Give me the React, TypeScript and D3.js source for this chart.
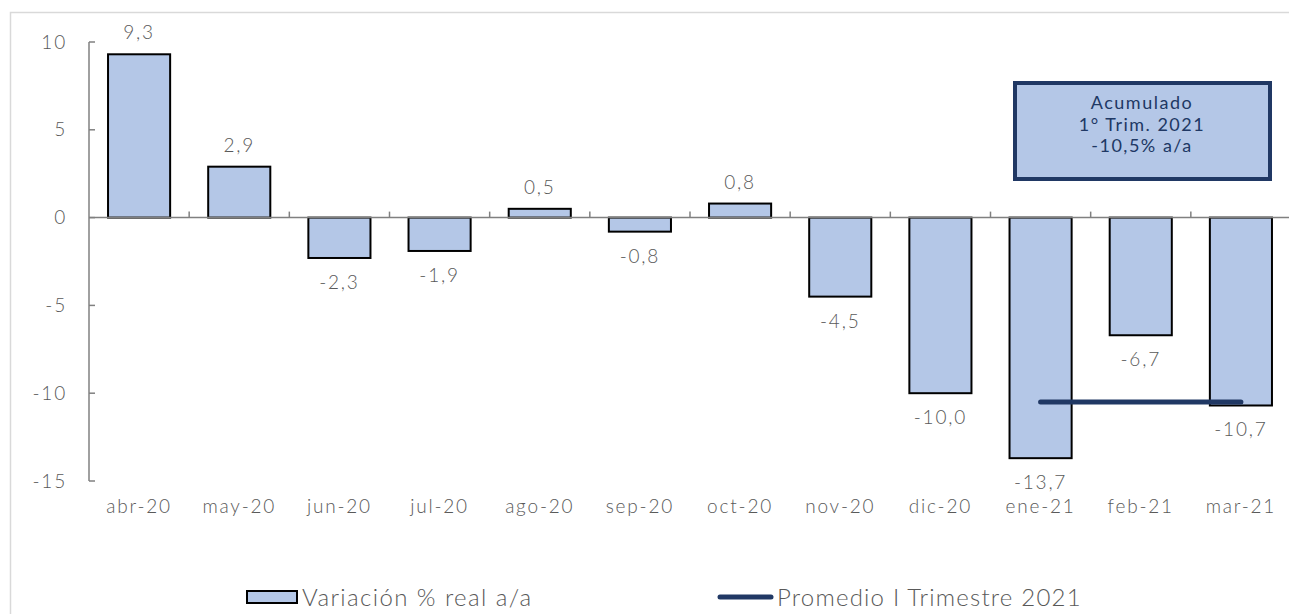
import * as React from "react";
import * as d3 from "d3";

const months = ["abr-20", "may-20", "jun-20", "jul-20", "ago-20", "sep-20", "oct-20", "nov-20", "dic-20", "ene-21", "feb-21", "mar-21"];
const variacion = [9.3, 2.9, -2.3, -1.9, 0.5, -0.8, 0.8, -4.5, -10.0, -13.7, -6.7, -10.7];
const promedioMonths = ["ene-21", "feb-21", "mar-21"];
const promedioValue = -10.5;
const yTicks = [10, 5, 0, -5, -10, -15];
const boxLines = ["Acumulado", "1° Trim. 2021", "-10,5% a/a"];

const W = 1289;
const H = 614;
const font = "'Lato', 'Open Sans', sans-serif";
const navy = "#203864";
const barFill = "#b4c7e7";
const grey = "#808080";
const textGrey = "#595959";

const x = d3.scaleBand().domain(months).range([89, 1291]).paddingInner(0.38).paddingOuter(0.19);
const y = d3.scaleLinear().domain([-15, 10]).range([481, 42]);
const fmt = (v: number) => d3.format(".1f")(v).replace(".", ",").replace("\u2212", "-");

const labelStyle = { fontFamily: font, fontSize: 19, fontWeight: 300, letterSpacing: 1.8, fill: textGrey } as const;

export default function App() {
  const step = x.step();
  const bounds = months.map((_, i) => 89 + step * i);
  const cx = (m: string) => (x(m) as number) + x.bandwidth() / 2;
  return (
    <svg width={W} height={H} style={{ display: "block", position: "absolute", left: 0, top: 0 }}>
      <rect x={0} y={0} width={W} height={H} fill="#fff" />
      <path d={`M10.5,${H} V12.5 H${W}`} fill="none" stroke="#d9d9d9" strokeWidth={1.5} />
      {/* y axis */}
      <line x1={89} x2={89} y1={y(10)} y2={y(-15)} stroke={grey} strokeWidth={1.5} />
      {yTicks.map(t => (
        <g key={t}>
          <line x1={89} x2={95} y1={y(t)} y2={y(t)} stroke={grey} strokeWidth={1.5} />
          <text x={67} y={y(t)} dy="0.35em" textAnchor="end" {...labelStyle}>{String(t)}</text>
        </g>
      ))}
      {/* bars */}
      {months.map((m, i) => {
        const v = variacion[i];
        const y0 = y(Math.max(0, v));
        const y1 = y(Math.min(0, v));
        return (
          <rect key={m} x={x(m)} y={y0} width={x.bandwidth()} height={y1 - y0} fill={barFill} stroke="#000" strokeWidth={2} />
        );
      })}
      {/* zero axis */}
      <line x1={89} x2={1291} y1={y(0)} y2={y(0)} stroke={grey} strokeWidth={1.5} />
      {bounds.slice(1).map((b, i) => (
        <line key={i} x1={b} x2={b} y1={y(0)} y2={y(0) - 6} stroke={grey} strokeWidth={1.5} />
      ))}
      {/* data labels */}
      {months.map((m, i) => {
        const v = variacion[i];
        const ly = v >= 0 ? y(v) - 15 : y(v) + 31;
        return (
          <text key={m} x={cx(m)} y={ly} textAnchor="middle" {...labelStyle}>{fmt(v)}</text>
        );
      })}
      {/* average line */}
      <line x1={cx(promedioMonths[0])} x2={cx(promedioMonths[promedioMonths.length - 1])} y1={y(promedioValue)} y2={y(promedioValue)} stroke={navy} strokeWidth={5} strokeLinecap="round" />
      {/* x labels */}
      {months.map(m => (
        <text key={m} x={cx(m)} y={513} textAnchor="middle" {...labelStyle}>{m}</text>
      ))}
      {/* annotation box */}
      <rect x={1015} y={83} width={255} height={96} fill={barFill} stroke={navy} strokeWidth={4} />
      {boxLines.map((t, i) => (
        <text key={i} x={1142} y={109 + i * 21.5} textAnchor="middle" fontFamily={font} fontSize={18} letterSpacing={1.5} fill={navy}>{t}</text>
      ))}
      {/* legend */}
      <rect x={247} y={591} width={50} height={12} fill={barFill} stroke="#000" strokeWidth={2} />
      <text x={302} y={606} fontFamily={font} fontSize={24} fontWeight={300} letterSpacing={1.4} fill={textGrey}>Variación % real a/a</text>
      <line x1={720} x2={771} y1={597} y2={597} stroke={navy} strokeWidth={5} strokeLinecap="round" />
      <text x={777} y={606} fontFamily={font} fontSize={24} fontWeight={300} letterSpacing={1.2} fill={textGrey}>Promedio I Trimestre 2021</text>
    </svg>
  );
}
